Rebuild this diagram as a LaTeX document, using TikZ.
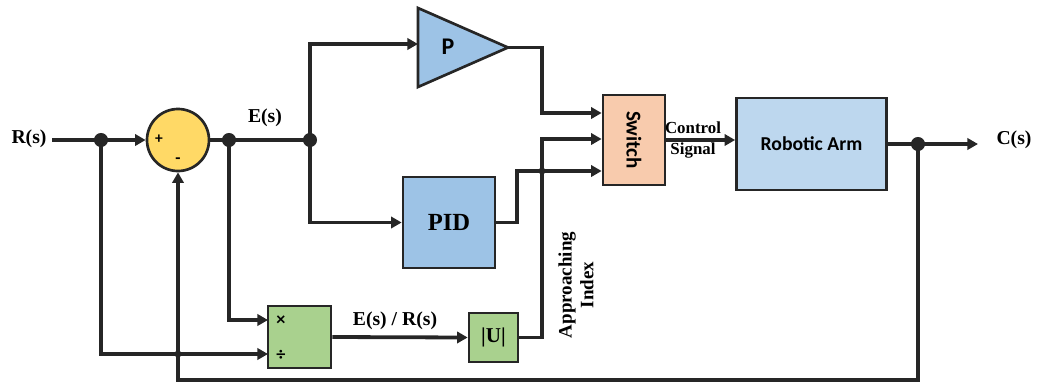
\documentclass[tikz,border=0pt]{standalone}
\usepackage{fontspec}
\setmainfont{Liberation Serif}
\newfontfamily\calfont{Carlito}
\usetikzlibrary{arrows.meta}
\definecolor{ln}{HTML}{262626}
\definecolor{sumy}{HTML}{FFD966}
\definecolor{pblue}{HTML}{9DC3E6}
\definecolor{swc}{HTML}{F8CBAD}
\definecolor{armc}{HTML}{BDD7EE}
\definecolor{grn}{HTML}{A9D18E}
\begin{document}
\begin{tikzpicture}[x=0.025cm,y=-0.025cm,
  wire/.style={line width=2.7pt, draw=ln},
  arr/.style={wire, -{Triangle[length=7.5pt,width=8pt]}},
  blk/.style={draw=ln, line width=1.9pt, inner sep=0pt},
  blkline/.style={draw=ln, line width=1.9pt, line join=miter},
  dotnode/.style={circle, fill=ln, inner sep=0pt, minimum size=10pt},
  smalldot/.style={circle, fill=ln, inner sep=0pt, minimum size=5pt},
  serif/.style={font=\bfseries\fontsize{14}{16}\selectfont, inner sep=1pt},
  sans/.style={font=\calfont\bfseries\fontsize{14}{16}\selectfont, inner sep=1pt}]
\useasboundingbox (0,0) rectangle (1040,383);

% summing junction
\node[blk, circle, fill=sumy, minimum size=1.55cm] (sum) at (178,140) {};
\node[font=\calfont\bfseries\fontsize{11}{11}\selectfont, inner sep=0pt] (plus) at (159,139) {+};
\node[font=\calfont\bfseries\fontsize{12}{12}\selectfont, inner sep=0pt] (minus) at (178,161) {-};

% labels
\node[serif] (R) at (29,139) {R(s)};
\node[serif] (E) at (265,118) {E(s)};
\node[serif] (C) at (1014,140) {C(s)};

% junction dots
\coordinate (rin) at (52,140);
\node[dotnode] (dR) at (101,140) {};
\node[dotnode] (dE1) at (229,140) {};
\node[dotnode] (dE2) at (310,140) {};
\node[dotnode] (dC) at (918,144) {};

% P gain (triangle)
\draw[blkline, fill=pblue] (418,8) -- (508,47.5) -- (418,87) -- cycle;
\coordinate (Pin) at (418,44);
\coordinate (Ptip) at (508,47.5);
\node[font=\calfont\bfseries\fontsize{17}{19}\selectfont, inner sep=0pt] (P) at (448,47) {P};

% PID
\node[blk, fill=pblue, minimum width=2.3cm, minimum height=2.275cm,
      font=\bfseries\fontsize{17.5}{19}\selectfont] (pid) at (449,222.5) {PID};

% Switch
\node[blk, fill=swc, minimum width=1.55cm, minimum height=2.25cm] (sw) at (634,140) {};
\node[font=\calfont\bfseries\fontsize{15}{17}\selectfont, inner sep=0pt, rotate=-90] (swt) at (sw.center) {Switch};

% Robotic arm
\node[blk, fill=armc, minimum width=3.75cm, minimum height=2.3cm,
      font=\calfont\bfseries\fontsize{14}{16}\selectfont] (arm) at (811.5,144) {Robotic Arm};

% multiply / divide
\node[blk, fill=grn, minimum width=1.575cm, minimum height=1.55cm] (mul) at (299.5,337) {};
\node[font=\calfont\bfseries\fontsize{13}{14}\selectfont, inner sep=0pt] (times) at (281,321) {×};
\node[font=\calfont\bfseries\fontsize{13}{14}\selectfont, inner sep=0pt] (divs) at (281,355) {÷};

% |U|
\node[blk, fill=grn, minimum size=1.225cm, font=\bfseries\fontsize{15}{17}\selectfont] (abs) at (493.5,337.5) {|U|};

% text labels
\node[serif] (ER) at (395,321) {E(s) / R(s)};
\node[font=\bfseries\fontsize{12}{15}\selectfont, align=center, inner sep=0pt] (cs) at (693,140) {Control\\Signal};
\node[font=\bfseries\fontsize{13.5}{15.5}\selectfont, align=center, rotate=90, inner sep=0pt] (ai) at (576,285) {Approaching\\Index};

% helper coordinates
\coordinate (j1) at (542,113);
\coordinate (j2) at (517,171);
\coordinate (j3) at (542,139);
\coordinate (cout) at (978,144);
\coordinate (fb) at (918,380);
\coordinate (mdiv) at (268,354);
\coordinate (mmul) at (268,320);
\node[smalldot] (x1) at (542,171) {};
\node[smalldot] (x2) at (178,354) {};

% wires
\draw[wire] (rin) -- (dR.center);
\draw[arr] (dR.center) -- (sum.west);
\draw[wire] (sum.east) -- (dE2.center);
\draw[arr] (dE2.center) |- (Pin);
\draw[arr] (dE2.center) |- (pid.west);
\draw[arr] (Ptip) -| (j1) -- (j1 -| sw.west);
\draw[arr] (pid.east) -| (j2) -- (j2 -| sw.west);
\draw[arr] (abs.east) -| (j3) -- (j3 -| sw.west);
\draw[arr] (sw.east) -- (sw.east -| arm.west);
\draw[wire] (arm.east) -- (dC.center);
\draw[arr] (dC.center) -- (cout);
\draw[arr] (dC.center) -- (fb) -| (sum.south);
\draw[arr] (dR.center) |- (mdiv);
\draw[arr] (dE1.center) |- (mmul);
\draw[arr] (mul.east) -- (abs.west);
\end{tikzpicture}
\end{document}
